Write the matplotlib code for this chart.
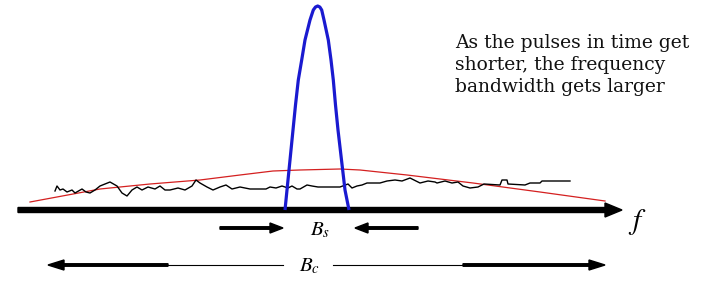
import numpy as np
import matplotlib
matplotlib.use('Agg')
import matplotlib.pyplot as plt

# noisy black spectrum (pixel units)
noise_x = [55, 57, 60, 63, 67, 72, 75, 82, 86, 90, 95, 100, 110, 117, 122, 127, 132, 137, 142, 148,
           155, 160, 165, 170, 178, 185, 192, 196, 200, 207, 213, 220, 226, 232, 240, 245, 250, 258,
           266, 270, 276, 282, 288, 292, 297, 300, 307, 312, 318, 330, 340, 348, 352, 357, 362, 367,
           372, 380, 387, 395, 402, 410, 420, 428, 435, 437, 445, 452, 458, 463, 470, 478, 484, 500,
           502, 507, 508, 525, 530, 540, 542, 570]
noise_y = [191, 186, 190, 189, 192, 190, 193, 189, 192, 193, 190, 186, 182, 186, 193, 196, 190, 187,
           190, 187, 189, 186, 190, 190, 188, 190, 186, 180, 183, 187, 190, 187, 185, 189, 187, 188,
           189, 189, 189, 187, 188, 186, 188, 186, 189, 189, 185, 186, 187, 187, 187, 184, 188, 186,
           185, 183, 183, 183, 181, 180, 181, 178, 183, 181, 182, 183, 181, 183, 182, 186, 188, 187,
           184, 185, 180, 180, 184, 185, 183, 183, 181, 181]

# red envelope
red_x = [30, 100, 150, 200, 240, 273, 300, 340, 360, 407, 473, 540, 605]
red_y = [202, 189, 184, 180, 175, 171, 170, 169, 170, 175, 183, 192, 201]

# blue pulse
blue_x = [285, 287, 290, 293, 295.5, 298.3, 301.7, 305, 310, 313.3, 315.5, 317.7,
          319.8, 321.7, 324, 328.3, 331, 333.3, 335.5, 338, 341.5, 345, 349]
blue_y = [210, 190, 160, 130, 105, 80, 60, 40, 20, 10, 7, 6,
          7, 10, 20, 40, 60, 80, 105, 130, 160, 190, 210]

note = "As the pulses in time get\nshorter, the frequency\nbandwidth gets larger"

plt.rcParams['mathtext.fontset'] = 'stix'

fig = plt.figure(figsize=(7.06, 2.88), dpi=100)
ax = fig.add_axes([0, 0, 1, 1])
ax.set_xlim(0, 706)
ax.set_ylim(288, 0)
ax.axis('off')

ax.plot(red_x, red_y, color='#d42020', lw=0.9)
ax.plot(noise_x, noise_y, color='black', lw=1.0)
ax.plot(blue_x, blue_y, color='#1a1ad0', lw=2.3, solid_capstyle='butt',
        solid_joinstyle='round')

# frequency axis
ax.arrow(18, 210, 604, 0, width=5, head_width=14, head_length=17,
         length_includes_head=True, color='black')
ax.text(637, 222, r'$f$', fontsize=21, ha='center', va='center')

# B_s arrows
ax.arrow(220, 228, 63, 0, width=2.5, head_width=10, head_length=13,
         length_includes_head=True, color='black')
ax.arrow(418, 228, -63, 0, width=2.5, head_width=10, head_length=13,
         length_includes_head=True, color='black')
ax.text(320, 230, r'$B_s$', fontsize=15, ha='center', va='center')

# B_c arrow
ax.arrow(168, 265, -120, 0, width=2.5, head_width=10, head_length=16,
         length_includes_head=True, color='black')
ax.plot([168, 283], [265, 265], color='black', lw=0.8)
ax.plot([333, 463], [265, 265], color='black', lw=0.8)
ax.arrow(463, 265, 142, 0, width=2.5, head_width=10, head_length=16,
         length_includes_head=True, color='black')
ax.text(310, 266, r'$B_c$', fontsize=15, ha='center', va='center')

ax.text(455, 65, note, fontsize=13.5, family='DejaVu Serif', ha='left', va='center',
        linespacing=1.3, color='#111111')

fig.savefig('out.png', dpi=100)
